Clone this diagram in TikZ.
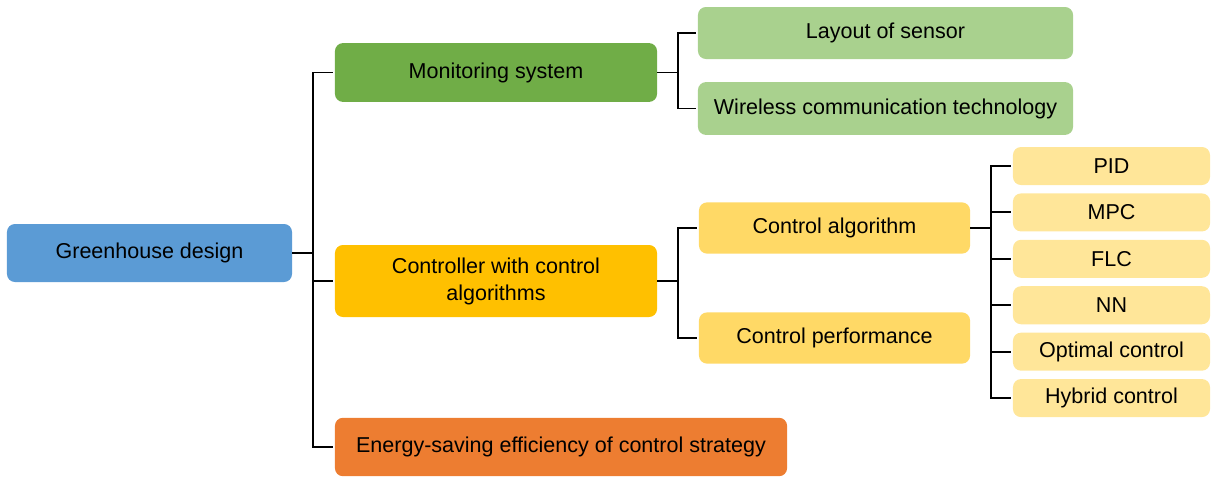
\documentclass[tikz,border=0pt]{standalone}
\usepackage{fontspec}
\setmainfont{Liberation Sans}
\usepackage{tikz}
\usetikzlibrary{positioning}

\definecolor{rootblue}{HTML}{5B9BD5}
\definecolor{mongreen}{HTML}{70AD47}
\definecolor{subgreen}{HTML}{A9D18E}
\definecolor{ctrlgold}{HTML}{FFC000}
\definecolor{subgold}{HTML}{FFD966}
\definecolor{leafgold}{HTML}{FFE699}
\definecolor{energyorange}{HTML}{ED7D31}

\begin{document}
\begin{tikzpicture}[
        x=0.025cm, y=-0.025cm, % one unit = one pixel of the sketch
        node distance=0.21cm, % gap between the leaf boxes
        every node/.style={rounded corners=0.2cm, inner sep=0pt, outer sep=0pt, align=center,
          font=\fontsize{15.3}{19.2}\selectfont},
        line width=1.4pt,
        shorten >=1.5pt % small gap in front of each box
      ]
      \useasboundingbox (0,0) rectangle (1217,483);

      % Nodes
      \node (root) [fill=rootblue, minimum width=7.125cm, minimum height=1.45cm] at (149.5,253) {Greenhouse design};
      \node (mon) [fill=mongreen, minimum width=8.05cm, minimum height=1.47cm] at (496,72.5) {Monitoring system};
      \node (ctrl) [fill=ctrlgold, minimum width=8.05cm, minimum height=1.8cm] at (496,281) {Controller with control\\algorithms};
      \node (energy) [fill=energyorange, minimum width=11.3cm, minimum height=1.46cm] at (561,447) {Energy-saving efficiency of control strategy};

      \node (layout) [fill=subgreen, minimum width=9.375cm, minimum height=1.3cm] at (885.5,33) {Layout of sensor};
      \node (wireless) [fill=subgreen, minimum width=9.375cm, minimum height=1.32cm] at (885.5,108.5) {Wireless communication technology};

      \node (calg) [fill=subgold, minimum width=6.775cm, minimum height=1.28cm] at (834.5,228) {Control algorithm};
      \node (cperf) [fill=subgold, minimum width=6.775cm, minimum height=1.28cm] at (834.5,338) {Control performance};

      \node (pid) [fill=leafgold, minimum width=4.925cm, minimum height=0.95cm] at (1111.5,166) {PID};
      \node (mpc) [fill=leafgold, minimum width=4.925cm, minimum height=0.95cm, below=of pid] {MPC};
      \node (flc) [fill=leafgold, minimum width=4.925cm, minimum height=0.95cm, below=of mpc] {FLC};
      \node (nn) [fill=leafgold, minimum width=4.925cm, minimum height=0.95cm, below=of flc] {NN};
      \node (opt) [fill=leafgold, minimum width=4.925cm, minimum height=0.95cm, below=of nn] {Optimal control};
      \node (hyb) [fill=leafgold, minimum width=4.925cm, minimum height=0.95cm, below=of opt] {Hybrid control};

      % Connectors
      \foreach \child in {mon, ctrl, energy}
        \draw (root.east) -- ++(21,0) |- (\child.west);
      \foreach \child in {layout, wireless}
        \draw (mon.east) -- ++(21,0) |- (\child.west);
      \foreach \child in {calg, cperf}
        \draw (ctrl.east) -- ++(21,0) |- (\child.west);
      \foreach \child in {pid, mpc, flc, nn, opt, hyb}
        \draw (calg.east) -- ++(21,0) |- (\child.west);

    \end{tikzpicture}
\end{document}
